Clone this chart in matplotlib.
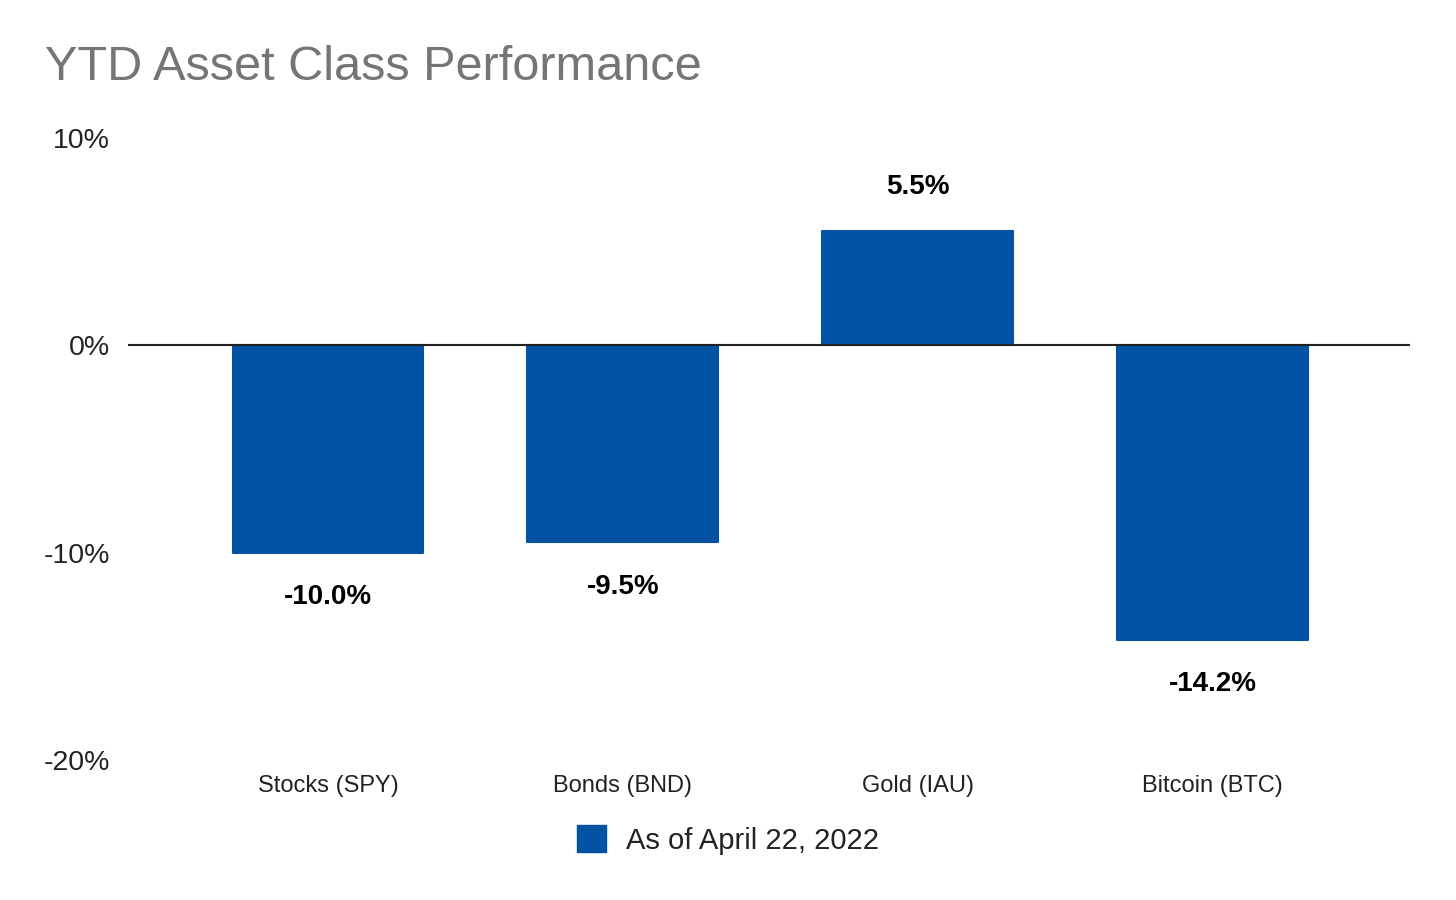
import matplotlib.pyplot as plt
from matplotlib.ticker import FixedLocator, FuncFormatter
from matplotlib.patches import Patch

# data
categories = ["Stocks (SPY)", "Bonds (BND)", "Gold (IAU)", "Bitcoin (BTC)"]
ytd_return = [-10.0, -9.5, 5.5, -14.2]
series_name = "As of April 22, 2022"
y_ticks = [-20, -10, 0, 10]

bar_colour = "#0353A4"
title_colour = "#757575"

plt.rcParams["font.family"] = ["Liberation Sans", "DejaVu Sans"]

fig = plt.figure(figsize=(14.56, 9.0), dpi=100)
ax = fig.add_axes([128 / 1456, 1 - 760 / 900, (1410 - 128) / 1456, (760 - 138) / 900])

x = list(range(len(categories)))
ax.bar(x, ytd_return, width=0.647, color=bar_colour, edgecolor=bar_colour,
       linewidth=1.5, joinstyle="round", zorder=2)
ax.axhline(0, color="#222222", lw=1.5, zorder=3)

# value labels above / below each bar
for xi, v in zip(x, ytd_return):
    off = 32 if v >= 0 else -32
    ax.annotate(f"{v:.1f}%", (xi, v), xytext=(0, off), textcoords="offset points",
                ha="center", va="center", fontsize=20, fontweight="bold", color="black")

ax.set_xlim(-0.678, 3.67)
ax.set_ylim(-20, 10)
ax.yaxis.set_major_locator(FixedLocator(y_ticks))
ax.yaxis.set_major_formatter(FuncFormatter(lambda v, p: f"{v:.0f}%"))
ax.set_xticks(x)
ax.set_xticklabels(categories)
ax.tick_params(axis="y", length=0, pad=13, labelsize=20.5, labelcolor="#222222")
ax.tick_params(axis="x", length=0, pad=11, labelsize=17, labelcolor="#222222")
for s in ax.spines.values():
    s.set_visible(False)

fig.text(45 / 1456, 1 - 68 / 900, "YTD Asset Class Performance", fontsize=35,
         color=title_colour, ha="left", va="center")

handle = Patch(facecolor=bar_colour, edgecolor=bar_colour, label=series_name)
fig.legend(handles=[handle], loc="center", bbox_to_anchor=(0.5, 1 - 840 / 900),
           frameon=False, fontsize=21, handlelength=1.0, handleheight=1.0,
           handletextpad=0.7, labelcolor="#222222")

fig.savefig("out.png", dpi=100)
